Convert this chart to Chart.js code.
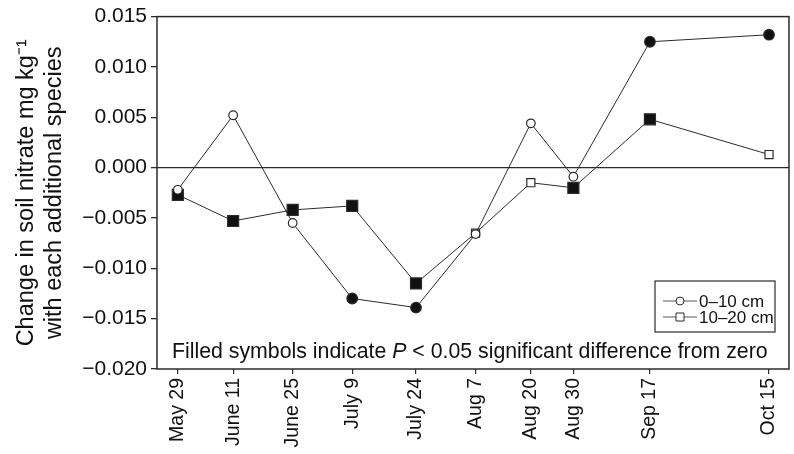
<!DOCTYPE html>
<html>
<head>
<meta charset="utf-8">
<script src="https://cdn.jsdelivr.net/npm/chart.js@4.4.1/dist/chart.umd.min.js"></script>
<style>
  html, body { margin: 0; padding: 0; background: #fff; }
  #chart { display: block; }
</style>
</head>
<body>
<canvas id="chart" width="794" height="454"></canvas>
<script>
// sampling dates, and days since May 29 for the x scale
const dateLabels = ['May 29', 'June 11', 'June 25', 'July 9', 'July 24', 'Aug 7', 'Aug 20', 'Aug 30', 'Sep 17', 'Oct 15'];
const sampleDays = [0, 13, 27, 41, 56, 70, 83, 93, 111, 139];

// change in soil nitrate (mg/kg) with each additional species
const shallow = [-0.0022, 0.0052, -0.0055, -0.0130, -0.0139, -0.0066, 0.0044, -0.0009, 0.0125, 0.0132];
const deep = [-0.0027, -0.0053, -0.0042, -0.0038, -0.0115, -0.0065, -0.0015, -0.0020, 0.0048, 0.0013];

// 1 = P < 0.05, drawn with a filled symbol
const shallowSig = [0, 0, 0, 1, 1, 0, 0, 0, 1, 1];
const deepSig = [1, 1, 1, 1, 1, 0, 0, 1, 1, 0];

const yTicks = [-0.02, -0.015, -0.01, -0.005, 0, 0.005, 0.01, 0.015];

const INK = '#2b2b2b';
const FONT = '"Liberation Sans", Arial, Helvetica, sans-serif';

function points(values) {
  return values.map((v, i) => ({ x: sampleDays[i], y: v }));
}

function drawMarker(ctx, style, x, y, filled) {
  ctx.beginPath();
  if (style === 'circle') {
    ctx.arc(x, y, 4, 0, Math.PI * 2);
  } else {
    ctx.rect(x - 4, y - 4, 8, 8);
  }
  ctx.fillStyle = filled ? '#111' : '#fff';
  ctx.fill();
  ctx.stroke();
}

// box around the plot, the note and the legend
const extras = {
  id: 'extras',
  afterDraw(chart) {
    const { ctx, chartArea: a } = chart;
    ctx.save();
    ctx.strokeStyle = INK;
    ctx.lineWidth = 1.5;
    ctx.strokeRect(a.left, a.top, a.right - a.left, a.bottom - a.top);

    // note along the bottom
    ctx.fillStyle = '#111';
    ctx.textBaseline = 'alphabetic';
    ctx.textAlign = 'left';
    let x = a.left + 15;
    const y = a.bottom - 11;
    const parts = [['Filled symbols indicate ', ''], ['P', 'italic '], [' < 0.05 significant difference from zero', '']];
    parts.forEach(([txt, style]) => {
      ctx.font = style + '21.3px ' + FONT;
      ctx.fillText(txt, x, y);
      x += ctx.measureText(txt).width;
    });

    // legend
    const bw = 120, bh = 51;
    const bx = a.right - 14 - bw;
    const by = a.bottom - 37 - bh;
    ctx.lineWidth = 1.2;
    ctx.strokeRect(bx, by, bw, bh);
    const rows = [['0\u201310 cm', 'circle'], ['10\u201320 cm', 'rect']];
    ctx.font = '17px ' + FONT;
    ctx.textBaseline = 'middle';
    rows.forEach(([txt, style], i) => {
      const ry = by + 20 + i * 16;
      ctx.strokeStyle = '#555';
      ctx.lineWidth = 1;
      ctx.beginPath();
      ctx.moveTo(bx + 8, ry);
      ctx.lineTo(bx + 42, ry);
      ctx.stroke();
      ctx.strokeStyle = INK;
      drawMarker(ctx, style, bx + 25, ry, false);
      ctx.fillStyle = '#111';
      ctx.fillText(txt, bx + 44, ry + 1);
    });
    ctx.restore();
  }
};

new Chart(document.getElementById('chart'), {
  type: 'line',
  data: {
    datasets: [
      {
        label: '0\u201310 cm',
        data: points(shallow),
        borderColor: INK,
        borderWidth: 1,
        pointStyle: 'circle',
        pointRadius: shallowSig.map(s => (s ? 5.3 : 4.3)),
        pointBackgroundColor: shallowSig.map(s => (s ? '#111' : '#fff')),
        pointBorderColor: INK,
        pointBorderWidth: 1.2,
        tension: 0,
      },
      {
        label: '10\u201320 cm',
        data: points(deep),
        borderColor: INK,
        borderWidth: 1,
        pointStyle: 'rect',
        pointRadius: deepSig.map(s => (s ? 7.8 : 5.7)),
        pointBackgroundColor: deepSig.map(s => (s ? '#111' : '#fff')),
        pointBorderColor: INK,
        pointBorderWidth: 1.2,
        tension: 0,
      },
    ],
  },
  options: {
    responsive: false,
    animation: false,
    layout: { autoPadding: false, padding: { top: 16, right: 5, bottom: 0, left: 0 } },
    plugins: {
      legend: { display: false },
      tooltip: { enabled: false },
    },
    scales: {
      x: {
        type: 'linear',
        min: -4.9,
        max: 143.7,
        afterBuildTicks: (scale) => {
          scale.ticks = sampleDays.map(v => ({ value: v }));
        },
        afterFit: (scale) => {
          scale.height = 85;
          scale.paddingLeft = 0;
          scale.paddingRight = 0;
        },
        border: { display: false },
        grid: { drawOnChartArea: false, tickLength: 5, tickColor: INK, lineWidth: 1.2 },
        ticks: {
          autoSkip: false,
          minRotation: 90,
          maxRotation: 90,
          padding: 4,
          color: '#111',
          font: { family: FONT, size: 19.5 },
          callback: (value) => dateLabels[sampleDays.indexOf(value)],
        },
      },
      y: {
        min: -0.02,
        max: 0.015,
        afterBuildTicks: (scale) => {
          scale.ticks = yTicks.map(v => ({ value: v }));
        },
        afterFit: (scale) => { scale.width = 157; },
        border: { display: false },
        grid: {
          color: (c) => (c.tick && c.tick.value === 0 ? INK : 'rgba(0,0,0,0)'),
          lineWidth: 1.3,
          tickLength: 6,
          tickColor: INK,
        },
        ticks: {
          padding: 4,
          color: '#111',
          font: { family: FONT, size: 21 },
          callback: (v) => (v < 0 ? '\u2212' : '') + Math.abs(v).toFixed(3),
        },
        title: {
          display: true,
          text: ['Change in soil nitrate mg kg\u207B\u00B9', 'with each additional species'],
          color: '#111',
          font: { family: FONT, size: 23.5, lineHeight: 1.15 },
          padding: { top: 13.5, bottom: 0 },
        },
      },
    },
  },
  plugins: [extras],
});
</script>
</body>
</html>
